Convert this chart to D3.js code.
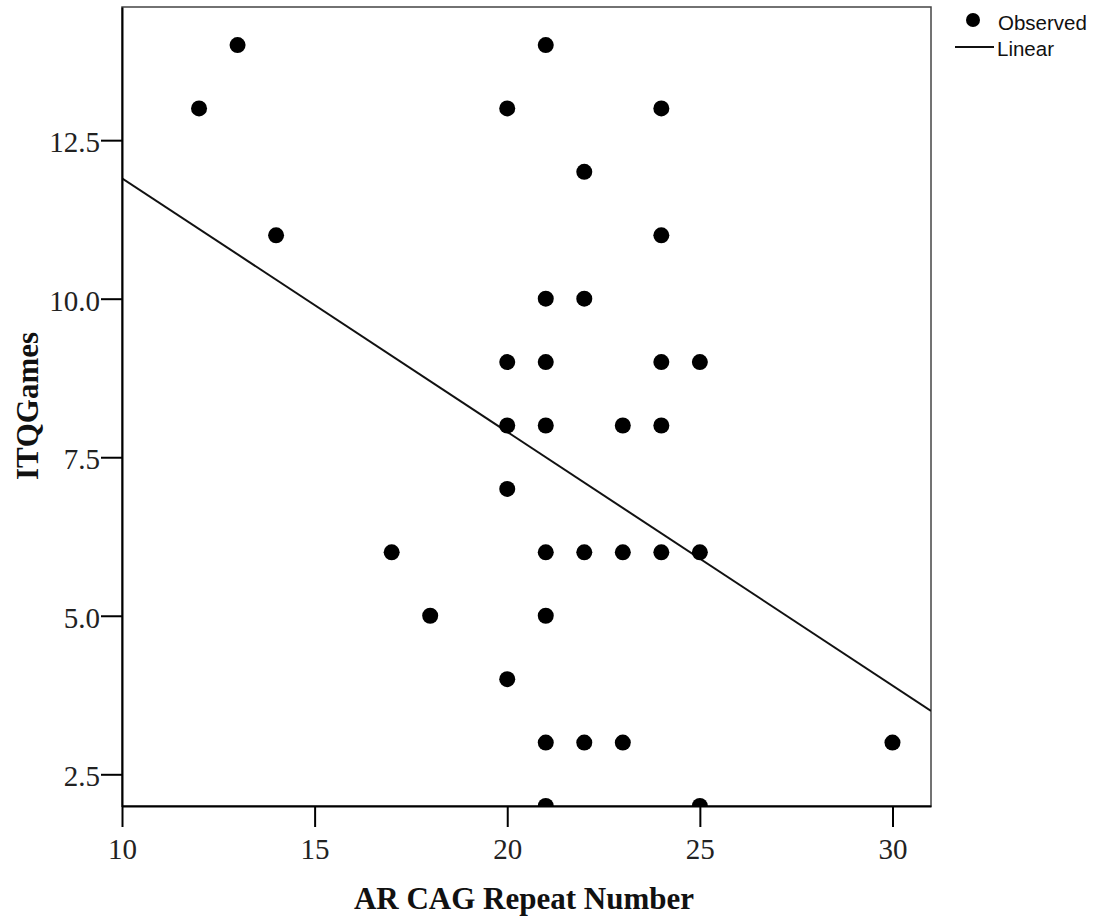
<!DOCTYPE html>
<html>
<head>
<meta charset="utf-8">
<script src="https://cdn.jsdelivr.net/npm/d3@7"></script>
<style>
html,body{margin:0;padding:0;background:#fff;}
svg{display:block;}
</style>
</head>
<body>
<svg id="chart" width="1100" height="920"></svg>
<script>
// ---- data ----
const cagRepeat = [12,13,14,17,18,20,20,20,20,20,21,21,21,21,21,21,21,21,22,22,22,22,23,23,23,24,24,24,24,24,25,25,25,30];
const itqGames  = [13,14,11,6,5,13,9,8,7,4,14,10,9,8,6,5,3,2,12,10,6,3,8,6,3,13,11,9,8,6,9,6,2,3];
const xTicks = [10,15,20,25,30];
const yTicks = [2.5,5.0,7.5,10.0,12.5];
const xDomain = [10, 31.0];
const yDomain = [2.0, 14.6];
const fitIntercept = 15.9;
const fitSlope = -0.40;
const legendLabels = ["Observed","Linear"];
const xTitle = "AR CAG Repeat Number";
const yTitle = "ITQGames";

// ---- layout ----
const L = 122, R = 931, T = 7, B = 806;
const svg = d3.select("#chart");
const x = d3.scaleLinear().domain(xDomain).range([L, R]);
const y = d3.scaleLinear().domain(yDomain).range([B, T]);

const serif = "'Liberation Serif','Times New Roman',serif";
const sans = "'Liberation Sans',Arial,sans-serif";

svg.append("defs").append("clipPath").attr("id","plotclip")
  .append("rect").attr("x",L).attr("y",T).attr("width",R-L).attr("height",B-T);

// frame
svg.append("rect").attr("x",L).attr("y",T).attr("width",R-L).attr("height",B-T)
  .attr("fill","none").attr("stroke","#444").attr("stroke-width",1.5);

// regression line
const g = svg.append("g").attr("clip-path","url(#plotclip)");
g.append("line")
  .attr("x1", x(xDomain[0])).attr("y1", y(fitIntercept + fitSlope*xDomain[0]))
  .attr("x2", x(xDomain[1])).attr("y2", y(fitIntercept + fitSlope*xDomain[1]))
  .attr("stroke","#111").attr("stroke-width",2);

// points
g.selectAll("circle.pt").data(cagRepeat.map((v,i)=>({x:v,y:itqGames[i]})))
  .enter().append("circle").attr("class","pt")
  .attr("cx",d=>x(d.x)).attr("cy",d=>y(d.y)).attr("r",8).attr("fill","#000");

// axes
const xAxis = svg.append("g").attr("transform",`translate(0,${B})`)
  .call(d3.axisBottom(x).tickValues(xTicks).tickSize(21).tickSizeOuter(0).tickFormat(d3.format("d")));
const yAxis = svg.append("g").attr("transform",`translate(${L},0)`)
  .call(d3.axisLeft(y).tickValues(yTicks).tickSize(21).tickSizeOuter(0).tickFormat(d3.format(".1f")));
[xAxis,yAxis].forEach(a=>{
  a.select(".domain").attr("stroke","#000").attr("stroke-width",2);
  a.selectAll(".tick line").attr("stroke","#000").attr("stroke-width",2);
  a.selectAll(".tick text").attr("fill","#222").style("font-family",serif).style("font-size","29px");
});
xAxis.selectAll(".tick text").attr("y",53).attr("dy",0);
yAxis.selectAll(".tick text").attr("x",-22).attr("dy","0.4em");

// axis titles
svg.append("text").attr("x",(355+693)/2).attr("y",909).attr("text-anchor","middle")
  .style("font-family",serif).style("font-weight","bold").style("font-size","31px").attr("fill","#111")
  .text(xTitle);
svg.append("text").attr("transform","translate(38,406) rotate(-90)").attr("text-anchor","middle")
  .style("font-family",serif).style("font-weight","bold").style("font-size","31px").attr("fill","#111")
  .text(yTitle);

// legend
const lg = svg.append("g");
lg.append("circle").attr("cx",973).attr("cy",20).attr("r",7).attr("fill","#000");
lg.append("text").attr("x",998).attr("y",30).text(legendLabels[0])
  .style("font-family",sans).style("font-size","20.5px").attr("fill","#111");
lg.append("line").attr("x1",955).attr("x2",994).attr("y1",47).attr("y2",47)
  .attr("stroke","#111").attr("stroke-width",2);
lg.append("text").attr("x",997).attr("y",56).text(legendLabels[1])
  .style("font-family",sans).style("font-size","20.5px").attr("fill","#111");
</script>
</body>
</html>
